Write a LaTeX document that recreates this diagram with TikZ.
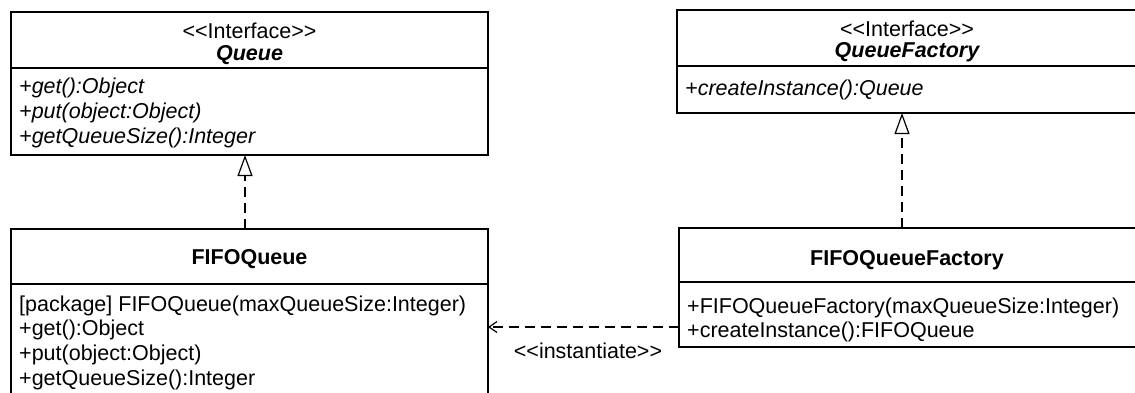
\documentclass[tikz,border=0pt]{standalone}
\usepackage{fontspec}
\newfontfamily\umlfont{Liberation Sans}
\usetikzlibrary{arrows.meta}

\begin{document}
\begin{tikzpicture}[x=1pt,y=-1pt,
  classbox/.style={draw=black, line width=1.3pt, rectangle, inner sep=0pt,
    outer sep=0pt, anchor=north west},
  sepline/.style={draw=black, line width=1.3pt},
  txt/.style={inner sep=0pt, font=\umlfont\fontsize{21.5}{25}\selectfont},
  member/.style={txt, anchor=base west},
  title/.style={txt, anchor=base},
  realize/.style={line width=1.2pt, dash pattern=on 10pt off 6pt,
    -{Triangle[open, length=21pt, width=15pt, line width=1.2pt]}},
  depend/.style={line width=1.2pt, dash pattern=on 10pt off 6pt,
    -{Straight Barb[length=8pt, width=11pt, line width=1.2pt]}},
]
\useasboundingbox (0,0) rectangle (1135,392);
\clip (0,0) rectangle (1135,392);

% Queue interface
\node[classbox, minimum width=477pt, minimum height=143pt] (queue) at (11,12) {};
\draw[sepline] (11,68) -- (488,68);
\node[title] (queueStereo) at (249.5,38) {<<Interface>>};
\node[title, font=\umlfont\fontsize{21.5}{25}\selectfont\bfseries\itshape] (queueName) at (249.5,60) {Queue};
\node[member, font=\umlfont\fontsize{21.5}{25}\selectfont\itshape] (queueGet) at (19,93) {+get():Object};
\node[member, font=\umlfont\fontsize{21.5}{25}\selectfont\itshape] (queuePut) at (19,118) {+put(object:Object)};
\node[member, font=\umlfont\fontsize{21.5}{25}\selectfont\itshape] (queueSize) at (19,143) {+getQueueSize():Integer};

% FIFOQueue class (runs past the lower edge)
\node[classbox, minimum width=477pt, minimum height=180pt] (fifoq) at (11,229) {};
\draw[sepline] (11,284) -- (488,284);
\node[title, font=\umlfont\fontsize{21.5}{25}\selectfont\bfseries] (fifoqName) at (249.5,264) {FIFOQueue};
\node[member] (fifoqCtor) at (19,311) {[package] FIFOQueue(maxQueueSize:Integer)};
\node[member] (fifoqGet) at (19,335) {+get():Object};
\node[member] (fifoqPut) at (19,360) {+put(object:Object)};
\node[member] (fifoqSize) at (19,385) {+getQueueSize():Integer};

% QueueFactory interface (runs past the right edge)
\node[classbox, minimum width=470pt, minimum height=103pt] (factory) at (677,10) {};
\draw[sepline] (677,66) -- (1147,66);
\node[title] (factoryStereo) at (907,36) {<<Interface>>};
\node[title, font=\umlfont\fontsize{21.5}{25}\selectfont\bfseries\itshape] (factoryName) at (907,57) {QueueFactory};
\node[member, font=\umlfont\fontsize{21.5}{25}\selectfont\itshape] (factoryCreate) at (685,95) {+createInstance():Queue};

% FIFOQueueFactory class (runs past the right edge)
\node[classbox, minimum width=468pt, minimum height=119pt] (fifof) at (679,228) {};
\draw[sepline] (679,282) -- (1147,282);
\node[title, font=\umlfont\fontsize{21.5}{25}\selectfont\bfseries] (fifofName) at (907,265) {FIFOQueueFactory};
\node[member] (fifofCtor) at (687,313) {+FIFOQueueFactory(maxQueueSize:Integer)};
\node[member] (fifofCreate) at (687,337) {+createInstance():FIFOQueue};

% realizations
\draw[realize] ([xshift=234pt]fifoq.north west) -- ([xshift=234pt]queue.south west);
\draw[realize] ([xshift=223pt]fifof.north west) -- ([xshift=225pt]factory.south west);

% instantiation dependency
\draw[depend] ([yshift=-99pt]fifof.north west) -- ([yshift=-98pt]fifoq.north east);
\node[txt, anchor=base] (depLabel) at (588,358) {<<instantiate>>};
\end{tikzpicture}
\end{document}
